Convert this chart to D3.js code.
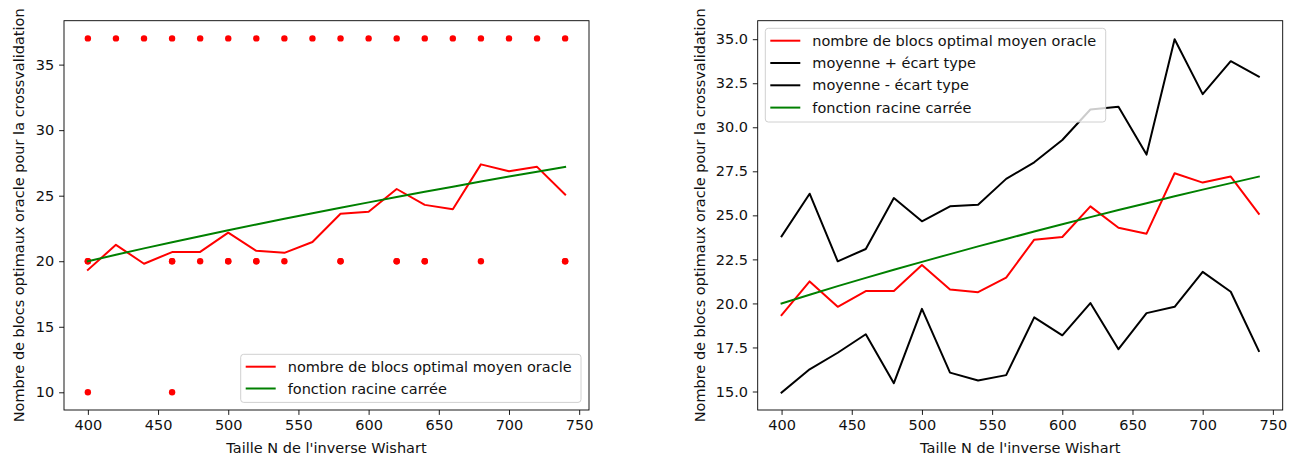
<!DOCTYPE html>
<html>
<head>
<meta charset="utf-8">
<script src="https://cdn.jsdelivr.net/npm/d3@7"></script>
<style>
  body { margin: 0; background: #fff; }
  svg { font-family: "DejaVu Sans", sans-serif; }
</style>
</head>
<body>
<svg width="1298" height="459"></svg>
<script>
// data
const tailles = [400, 420, 440, 460, 480, 500, 520, 540, 560, 580, 600, 620, 640, 660, 680, 700, 720, 740]
const moyenne = [19.34, 21.25, 19.81, 20.70, 20.71, 22.18, 20.79, 20.64, 21.47, 23.62, 23.77, 25.51, 24.30, 23.96, 27.39, 26.86, 27.20, 25.09]
const racine = [20.0, 20.49, 20.98, 21.45, 21.91, 22.36, 22.80, 23.24, 23.66, 24.08, 24.49, 24.90, 25.30, 25.69, 26.08, 26.46, 26.83, 27.20]
const moyPlus = [23.81, 26.23, 22.39, 23.09, 25.98, 24.66, 25.51, 25.60, 27.07, 28.01, 29.28, 31.01, 31.17, 28.45, 35.00, 31.88, 33.75, 32.88]
const moyMoins = [14.94, 16.26, 17.20, 18.25, 15.47, 19.69, 16.07, 15.62, 15.93, 19.21, 18.19, 20.02, 17.40, 19.45, 19.81, 21.79, 20.66, 17.30]

// individual oracle results (duplicates = overlapping points)
const pointsN = [400, 420, 440, 460, 480, 500, 520, 540, 560, 580, 600, 620, 640, 660, 680, 700, 720, 740,
                 400, 400, 460, 460, 480, 500, 500, 520, 520, 540, 580, 580, 620, 620, 640, 640, 680, 740, 740,
                 400, 460]
const pointsK = [37, 37, 37, 37, 37, 37, 37, 37, 37, 37, 37, 37, 37, 37, 37, 37, 37, 37,
                 20, 20, 20, 20, 20, 20, 20, 20, 20, 20, 20, 20, 20, 20, 20, 20, 20, 20, 20,
                 10, 10]

const ticksLeft = [10, 15, 20, 25, 30, 35]
const ticksRight = [15.0, 17.5, 20.0, 22.5, 25.0, 27.5, 30.0, 32.5, 35.0]
const ticksX = [400, 450, 500, 550, 600, 650, 700, 750]

const labelX = "Taille N de l'inverse Wishart"
const labelY = "Nombre de blocs optimaux oracle pour la crossvalidation"

const svg = d3.select('svg')
const fs = 14.5

function panel(box, yDomain, yTicks, yFmt) {
   const g = svg.append('g')
   const x = d3.scaleLinear().domain([383, 757]).range([box.left, box.right])
   const y = d3.scaleLinear().domain(yDomain).range([box.bottom, box.top])

   const xAxis = d3.axisBottom(x).tickValues(ticksX).tickSize(4.9).tickPadding(4.5).tickFormat(d3.format('d'))
   const yAxis = d3.axisLeft(y).tickValues(yTicks).tickSize(4.9).tickPadding(4.8).tickFormat(yFmt)

   const gx = g.append('g').attr('transform', `translate(0,${box.bottom})`).call(xAxis)
   const gy = g.append('g').attr('transform', `translate(${box.left},0)`).call(yAxis)
   ;[gx, gy].forEach(a => {
      a.select('.domain').remove()
      a.selectAll('line').attr('stroke', '#000').attr('stroke-width', 0.9)
      a.selectAll('text').attr('font-size', fs).attr('fill', '#111').attr('font-family', '"DejaVu Sans", sans-serif')
   })

   g.append('rect')
      .attr('x', box.left).attr('y', box.top)
      .attr('width', box.right - box.left).attr('height', box.bottom - box.top)
      .attr('fill', 'none').attr('stroke', '#000').attr('stroke-width', 0.9)

   g.append('text')
      .attr('x', (box.left + box.right) / 2).attr('y', 453)
      .attr('text-anchor', 'middle').attr('font-size', fs).attr('fill', '#111')
      .text(labelX)

   g.append('text')
      .attr('transform', `translate(${box.yLabelX},${(box.top + box.bottom) / 2}) rotate(-90)`)
      .attr('text-anchor', 'middle').attr('font-size', fs).attr('fill', '#111')
      .text(labelY)

   const clip = 'clip' + Math.round(box.left)
   g.append('clipPath').attr('id', clip).append('rect')
      .attr('x', box.left).attr('y', box.top)
      .attr('width', box.right - box.left).attr('height', box.bottom - box.top)

   const plot = g.append('g').attr('clip-path', `url(#${clip})`)
   const line = d3.line().x((d, i) => x(tailles[i])).y(d => y(d))

   const addLine = (vals, color) => plot.append('path')
      .attr('d', line(vals)).attr('fill', 'none')
      .attr('stroke', color).attr('stroke-width', 2)
      .attr('stroke-linejoin', 'round').attr('stroke-linecap', 'square')

   return { g, x, y, plot, addLine }
}

function legend(g, bx, by, bw, entries, rowH) {
   const leg = g.append('g')
   leg.append('rect')
      .attr('x', bx).attr('y', by).attr('width', bw).attr('height', entries.length * rowH + 4.5)
      .attr('rx', 3).attr('fill', '#fff').attr('fill-opacity', 0.8)
      .attr('stroke', '#d0d0d0').attr('stroke-width', 1)
   entries.forEach((e, i) => {
      const cy = by + 12.4 + i * rowH
      leg.append('line')
         .attr('x1', bx + 5).attr('x2', bx + 35).attr('y1', cy).attr('y2', cy)
         .attr('stroke', e.color).attr('stroke-width', 2)
      leg.append('text')
         .attr('x', bx + 47).attr('y', cy).attr('dy', '0.35em')
         .attr('font-size', fs).attr('fill', '#111').text(e.label)
   })
}

// ---- left panel
const left = panel({ left: 64, right: 589, top: 20.7, bottom: 410, yLabelX: 24 },
   [8.65, 38.35], ticksLeft, d3.format('d'))

left.plot.selectAll('circle')
   .data(pointsN)
   .enter()
   .append('circle')
   .attr('cx', d => left.x(d))
   .attr('cy', (d, i) => left.y(pointsK[i]))
   .attr('r', 3.2)
   .attr('fill', 'red')

left.addLine(moyenne, 'red')
left.addLine(racine, 'green')

legend(left.g, 240.7, 354.3, 340.3, [
   { label: 'nombre de blocs optimal moyen oracle', color: 'red' },
   { label: 'fonction racine carrée', color: 'green' }
], 21.8)

// ---- right panel
const right = panel({ left: 757.7, right: 1282.7, top: 20.7, bottom: 410, yLabelX: 705 },
   [13.95, 36.05], ticksRight, d3.format('.1f'))

right.addLine(moyenne, 'red')
right.addLine(moyPlus, 'black')
right.addLine(moyMoins, 'black')
right.addLine(racine, 'green')

legend(right.g, 765.3, 28.3, 340.4, [
   { label: 'nombre de blocs optimal moyen oracle', color: 'red' },
   { label: 'moyenne + écart type', color: 'black' },
   { label: 'moyenne - écart type', color: 'black' },
   { label: 'fonction racine carrée', color: 'green' }
], 22.3)
</script>
</body>
</html>
